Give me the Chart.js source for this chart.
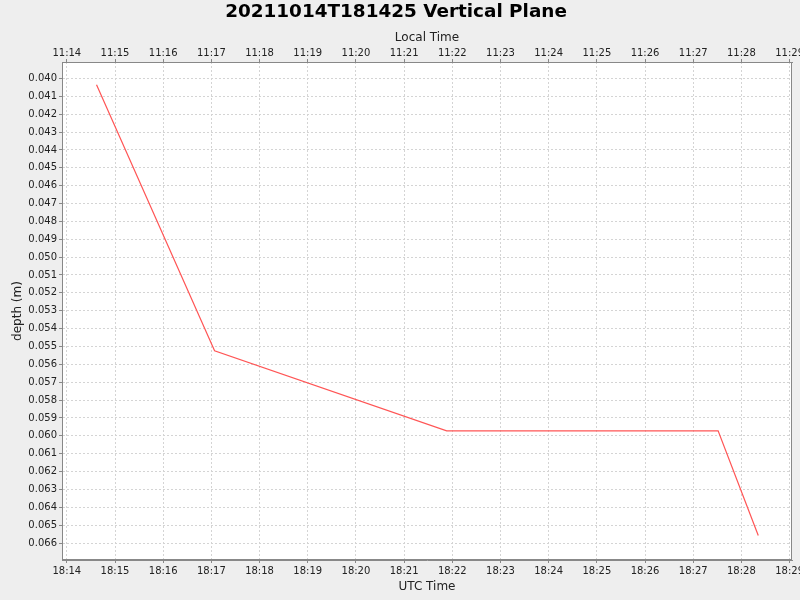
<!DOCTYPE html>
<html>
<head>
<meta charset="utf-8">
<script src="https://cdn.jsdelivr.net/npm/chart.js@4.4.0/dist/chart.umd.min.js"></script>
<style>
  html, body { margin: 0; padding: 0; background: #eeeeee; }
  #wrap { width: 800px; height: 600px; }
</style>
</head>
<body>
<div id="wrap"><canvas id="chart"></canvas></div>
<script>
// samples (UTC time, depth in metres)
const utcTimes = ['18:14:37', '18:17:04', '18:21:53', '18:27:31', '18:28:21'];
const depths = [0.04035, 0.05524, 0.05972, 0.05972, 0.06558];

// axis ticks
const utcTicks = ['18:14', '18:15', '18:16', '18:17', '18:18', '18:19', '18:20', '18:21',
  '18:22', '18:23', '18:24', '18:25', '18:26', '18:27', '18:28', '18:29'];
const localTicks = ['11:14', '11:15', '11:16', '11:17', '11:18', '11:19', '11:20', '11:21',
  '11:22', '11:23', '11:24', '11:25', '11:26', '11:27', '11:28', '11:29'];
const depthTicks = [0.040, 0.041, 0.042, 0.043, 0.044, 0.045, 0.046, 0.047, 0.048, 0.049,
  0.050, 0.051, 0.052, 0.053, 0.054, 0.055, 0.056, 0.057, 0.058, 0.059, 0.060, 0.061,
  0.062, 0.063, 0.064, 0.065, 0.066];

// visible ranges
const timeRange = ['18:13:54', '18:29:03'];
const depthRange = [0.03908, 0.06695];

function toSeconds(str) {
  const parts = str.split(':').map(Number);
  return parts[0] * 3600 + parts[1] * 60 + (parts[2] || 0);
}

const points = utcTimes.map(function (t, i) {
  return { x: toSeconds(t), y: depths[i] };
});

const tickFont = { family: 'DejaVu Sans', size: 10 };
const labelFont = { family: 'DejaVu Sans', size: 12 };
const gridColor = '#d4d4d4';
const textColor = '#222222';

const backgroundPlugin = {
  id: 'background',
  beforeDraw: function (chart) {
    const ctx = chart.ctx;
    const area = chart.chartArea;
    ctx.save();
    ctx.fillStyle = '#eeeeee';
    ctx.fillRect(0, 0, chart.width, chart.height);
    ctx.fillStyle = '#ffffff';
    ctx.fillRect(area.left, area.top, area.right - area.left, area.bottom - area.top);
    ctx.restore();
  },
  afterDraw: function (chart) {
    const ctx = chart.ctx;
    const area = chart.chartArea;
    ctx.save();
    ctx.strokeStyle = '#888888';
    ctx.lineWidth = 1;
    ctx.strokeRect(area.left + 0.5, area.top + 0.5, area.right - area.left - 1, area.bottom - area.top - 1);
    ctx.restore();
  }
};

function timeTicks(labels) {
  return function (scale) {
    scale.ticks = labels.map(function (l, i) {
      return { value: toSeconds(utcTicks[i]), label: l };
    });
  };
}

const ctx = document.getElementById('chart').getContext('2d');

new Chart(ctx, {
  type: 'line',
  data: {
    datasets: [
      {
        label: 'depth',
        data: points,
        borderColor: '#ff5555',
        borderWidth: 1.2,
        pointRadius: 0,
        fill: false,
        tension: 0,
      },
    ],
  },
  options: {
    responsive: true,
    maintainAspectRatio: false,
    animation: false,
    devicePixelRatio: 1,
    layout: { padding: { left: 0, right: 8, top: 0, bottom: 0 } },
    plugins: {
      legend: { display: false },
      tooltip: { enabled: false },
      title: {
        display: true,
        text: '20211014T181425 Vertical Plane',
        color: '#000000',
        font: { family: 'DejaVu Sans', size: 18.4, weight: 'bold', lineHeight: '22px' },
        padding: { top: 1, bottom: 3 },
      },
    },
    scales: {
      x: {
        type: 'linear',
        position: 'bottom',
        min: toSeconds(timeRange[0]),
        max: toSeconds(timeRange[1]),
        afterBuildTicks: timeTicks(utcTicks),
        afterFit: function (scale) {
          scale.height = 40;
          scale.paddingLeft = 0;
          scale.paddingRight = 0;
        },
        ticks: {
          autoSkip: false,
          maxRotation: 0,
          color: textColor,
          font: tickFont,
          padding: 2,
          callback: function (value, index, ticks) {
            return ticks[index].label;
          },
        },
        grid: {
          color: gridColor,
          lineWidth: 1,
          tickLength: 3,
          tickColor: '#888888',
          tickBorderDash: [],
        },
        border: { display: true, color: '#888888', dash: [2, 2] },
        title: { display: true, text: 'UTC Time', color: textColor, font: labelFont, padding: { top: 0, bottom: 6 } },
      },
      xTop: {
        type: 'linear',
        position: 'top',
        min: toSeconds(timeRange[0]),
        max: toSeconds(timeRange[1]),
        afterBuildTicks: timeTicks(localTicks),
        afterFit: function (scale) {
          scale.height = 36;
          scale.paddingLeft = 0;
          scale.paddingRight = 0;
        },
        ticks: {
          autoSkip: false,
          maxRotation: 0,
          color: textColor,
          font: tickFont,
          padding: 0,
          callback: function (value, index, ticks) {
            return ticks[index].label;
          },
        },
        grid: {
          drawOnChartArea: false,
          tickLength: 3,
          tickColor: '#888888',
        },
        border: { display: true, color: '#888888' },
        title: { display: true, text: 'Local Time', color: textColor, font: labelFont, padding: { top: 5, bottom: 0 } },
      },
      y: {
        type: 'linear',
        reverse: true,
        min: depthRange[0],
        max: depthRange[1],
        afterBuildTicks: function (scale) {
          scale.ticks = depthTicks.map(function (v) {
            return { value: v };
          });
        },
        afterFit: function (scale) {
          scale.width = 62;
          scale.paddingTop = 0;
          scale.paddingBottom = 0;
        },
        ticks: {
          autoSkip: false,
          color: textColor,
          font: tickFont,
          padding: 2,
          callback: function (value) {
            return value.toFixed(3);
          },
        },
        grid: {
          color: gridColor,
          lineWidth: 1,
          tickLength: 3,
          tickColor: '#888888',
          tickBorderDash: [],
        },
        border: { display: true, color: '#888888', dash: [2, 2] },
        title: { display: true, text: 'depth (m)', color: textColor, font: labelFont, padding: { top: 11, bottom: 0 } },
      },
    },
  },
  plugins: [backgroundPlugin],
});
</script>
</body>
</html>
